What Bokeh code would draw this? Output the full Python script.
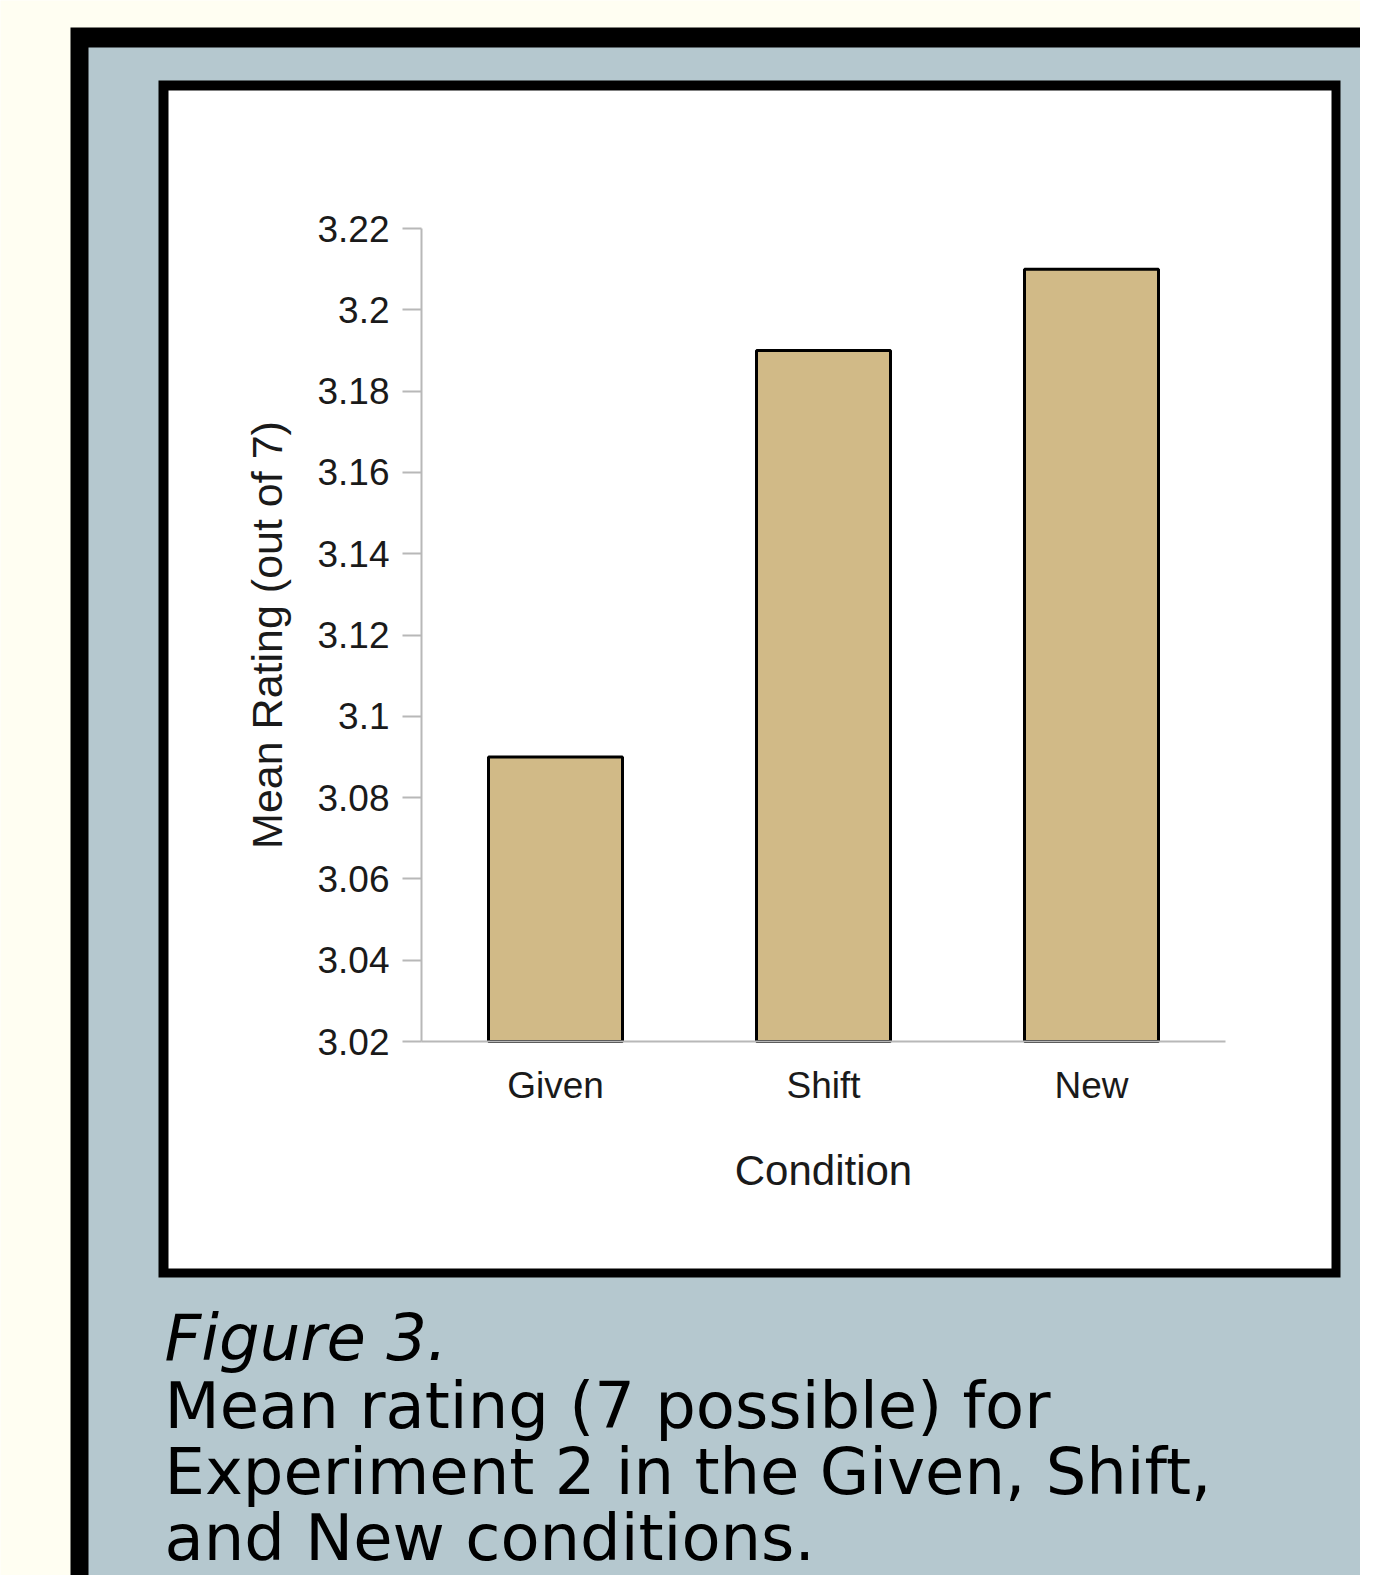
from bokeh.plotting import figure
from bokeh.models import BoxAnnotation, Label, FixedTicker, Range1d, ColumnDataSource, LinearAxis
from bokeh.embed import file_html
from bokeh.resources import INLINE

# ---- data ----
conditions = ["Given", "Shift", "New"]
mean_rating = [3.09, 3.19, 3.21]
y_min = 3.02
y_max = 3.22
y_ticks = [3.02, 3.04, 3.06, 3.08, 3.1, 3.12, 3.14, 3.16, 3.18, 3.2, 3.22]
y_tick_labels = ["3.02", "3.04", "3.06", "3.08", "3.1", "3.12", "3.14", "3.16", "3.18", "3.2", "3.22"]
y_title = "Mean Rating (out of 7)"
x_title = "Condition"
caption_lines = ["Figure 3.",
                 "Mean rating (7 possible) for",
                 "Experiment 2 in the Given, Shift,",
                 "and New conditions."]

# ---- styles / layout (pixels on the canvas) ----
CREAM = "#fffef2"
PANEL = "#b5c8cf"
BAR = "#d1ba87"
AXIS_GREY = "#b8b8b8"
TEXT = "#1a1a1a"

W, H = 1360, 1575
CH_LEFT, CH_RIGHT, CH_TOP, CH_BOTTOM = 421, 1225, 228, 1041   # chart area in canvas px

# category slots: one unit per condition
n_cat = len(conditions)
x_pos = [i + 0.5 for i in range(n_cat)]
px_per_cat = (CH_RIGHT - CH_LEFT) / n_cat
px_per_val = (CH_BOTTOM - CH_TOP) / (y_max - y_min)

x_start = 0 - CH_LEFT / px_per_cat
x_end = n_cat + (W - CH_RIGHT) / px_per_cat
y_start = y_min - (H - CH_BOTTOM) / px_per_val
y_end = y_max + CH_TOP / px_per_val

p = figure(width=W, height=H, title=None,
           x_range=Range1d(x_start, x_end),
           y_range=Range1d(y_start, y_end),
           x_axis_type=None, y_axis_type=None,
           output_backend="svg", toolbar_location=None,
           min_border=0, min_border_left=0, min_border_right=0,
           min_border_top=0, min_border_bottom=0)

p.border_fill_color = CREAM
p.background_fill_color = CREAM
p.outline_line_color = None
p.grid.visible = False


def box(l, t, r, b, color):
    p.add_layout(BoxAnnotation(left=l, right=r, top=t, bottom=b,
                               left_units="canvas", right_units="canvas",
                               top_units="canvas", bottom_units="canvas",
                               fill_color=color, fill_alpha=1.0,
                               line_color=None, line_alpha=0,
                               level="underlay"))


# decorative panels
box(70, 27, W, H, "black")
box(88, 47, W, H, PANEL)
box(158, 80, 1340, 1277, "black")
box(168, 90, 1331, 1268, "white")

src = ColumnDataSource(data=dict(x=x_pos, cond=conditions, val=mean_rating))
p.vbar(x="x", top="val", bottom=y_min, width=0.5, source=src,
       fill_color=BAR, line_color="black", line_width=3)

# x axis (fixed at the bottom of the value range)
xa = LinearAxis(fixed_location=y_min, bounds=(0, n_cat),
                ticker=FixedTicker(ticks=x_pos),
                major_label_overrides={x: c for x, c in zip(x_pos, conditions)})
xa.axis_line_color = AXIS_GREY
xa.axis_line_width = 2
xa.major_tick_line_color = None
xa.minor_tick_line_color = None
xa.major_label_text_font = "Liberation Sans"
xa.major_label_text_font_size = "37px"
xa.major_label_text_color = TEXT
xa.major_label_standoff = 17
xa.axis_label = x_title
xa.axis_label_text_font = "Liberation Sans"
xa.axis_label_text_font_size = "42px"
xa.axis_label_text_font_style = "normal"
xa.axis_label_text_color = TEXT
xa.axis_label_standoff = 38
p.add_layout(xa, "below")

# y axis (fixed at the left edge of the categories)
ya = LinearAxis(fixed_location=0, bounds=(y_min, y_max),
                ticker=FixedTicker(ticks=y_ticks),
                major_label_overrides={t: s for t, s in zip(y_ticks, y_tick_labels)})
ya.axis_line_color = AXIS_GREY
ya.axis_line_width = 2
ya.major_tick_line_color = AXIS_GREY
ya.major_tick_line_width = 2
ya.major_tick_out = 19
ya.major_tick_in = 0
ya.minor_tick_line_color = None
ya.major_label_text_font = "Liberation Sans"
ya.major_label_text_font_size = "37px"
ya.major_label_text_color = TEXT
ya.major_label_standoff = 13
ya.axis_label = y_title
ya.axis_label_text_font = "Liberation Sans"
ya.axis_label_text_font_size = "43px"
ya.axis_label_text_font_style = "normal"
ya.axis_label_text_color = TEXT
ya.axis_label_standoff = 23
p.add_layout(ya, "left")

# caption
baselines = [1337, 1405, 1471, 1537]
for i, (line, yb) in enumerate(zip(caption_lines, baselines)):
    p.add_layout(Label(x=164, y=yb, x_units="canvas", y_units="canvas",
                       text=line, text_font="DejaVu Sans",
                       text_font_size="64px",
                       text_font_style="italic" if i == 0 else "normal",
                       text_color="black", text_baseline="alphabetic",
                       text_align="left"))

open("out.html", "w").write(file_html(p, INLINE))
